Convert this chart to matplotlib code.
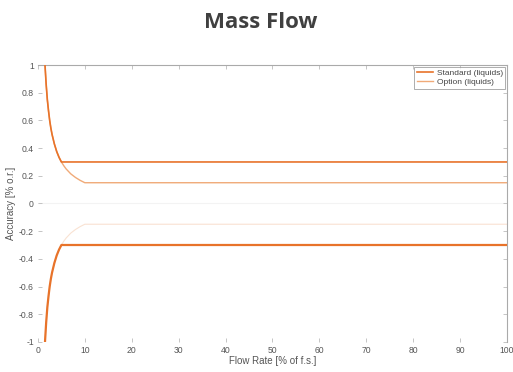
import numpy as np
import matplotlib.pyplot as plt

plt.rcParams['font.family'] = ['Liberation Sans', 'DejaVu Sans']

# curve readings (flow rate in % of f.s., accuracy in % o.r.)
std_x = [1.5, 1.75, 2.0, 2.25, 2.5, 2.75, 3.0, 3.5, 4.0, 4.5, 5.0, 100.0]
std_y = [1.0, 0.86, 0.75, 0.67, 0.60, 0.545, 0.50, 0.43, 0.375, 0.333, 0.30, 0.30]

opt_x = [1.5, 1.75, 2.0, 2.25, 2.5, 2.75, 3.0, 3.5, 4.0, 4.5, 5.0, 5.5, 6.0, 7.0, 8.0, 9.0, 10.0, 100.0]
opt_y = [1.0, 0.86, 0.75, 0.67, 0.60, 0.545, 0.50, 0.43, 0.375, 0.333, 0.30, 0.273, 0.25, 0.214, 0.188, 0.167, 0.15, 0.15]

xticks = [0, 10, 20, 30, 40, 50, 60, 70, 80, 90, 100]
yticks = [-1, -0.8, -0.6, -0.4, -0.2, 0, 0.2, 0.4, 0.6, 0.8, 1]
ytick_labels = ['-1', '-0.8', '-0.6', '-0.4', '-0.2', '0', '0.2', '0.4', '0.6', '0.8', '1']

std_color = '#E8732A'
opt_color = '#F0AA78'

fig = plt.figure(figsize=(5.13, 3.72), dpi=100)
ax = fig.add_axes([0.074, 0.081, 0.914, 0.744])

# faint zero line
ax.axhline(0, color='#F3F3F3', lw=0.8, zorder=0)

ax.plot(opt_x, opt_y, color=opt_color, lw=1.0, label='Option (liquids)', zorder=2)
ax.plot(opt_x, -np.array(opt_y), color='#F9E2D2', lw=0.8, zorder=1)
ax.plot(std_x, std_y, color=std_color, lw=1.2, label='Standard (liquids)', zorder=3)
ax.plot(std_x, -np.array(std_y), color=std_color, lw=1.6, zorder=3)

ax.set_xlim(0, 100)
ax.set_ylim(-1, 1)
ax.set_xticks(xticks)
ax.set_yticks(yticks)
ax.set_yticklabels(ytick_labels)
ax.tick_params(direction='in', length=3, width=0.6, color='#BBBBBB',
               labelsize=6.2, labelcolor='#555555', top=True, right=True, pad=3)

for side in ['top', 'right']:
    ax.spines[side].set_color('#AAAAAA')
    ax.spines[side].set_linewidth(0.8)
for side in ['left', 'bottom']:
    ax.spines[side].set_visible(False)

ax.set_xlabel('Flow Rate [% of f.s.]', fontsize=7, color='#555555', labelpad=1)
ax.set_ylabel('Accuracy [% o.r.]', fontsize=7, color='#555555', labelpad=2)

handles, labels = ax.get_legend_handles_labels()
leg = ax.legend(handles[::-1], labels[::-1], loc='upper right', fontsize=6,
                frameon=True, fancybox=False, borderpad=0.3, labelspacing=0.15,
                handlelength=2.0, handletextpad=0.4, borderaxespad=0.2)
leg.get_frame().set_edgecolor('#888888')
leg.get_frame().set_linewidth(0.6)
for t in leg.get_texts():
    t.set_color('#444444')

fig.text(0.508, 0.94, 'Mass Flow', ha='center', va='center', fontsize=16,
         fontweight='bold', color='#404040', family=['Open Sans', 'DejaVu Sans'])

fig.savefig('out.png', dpi=100)
